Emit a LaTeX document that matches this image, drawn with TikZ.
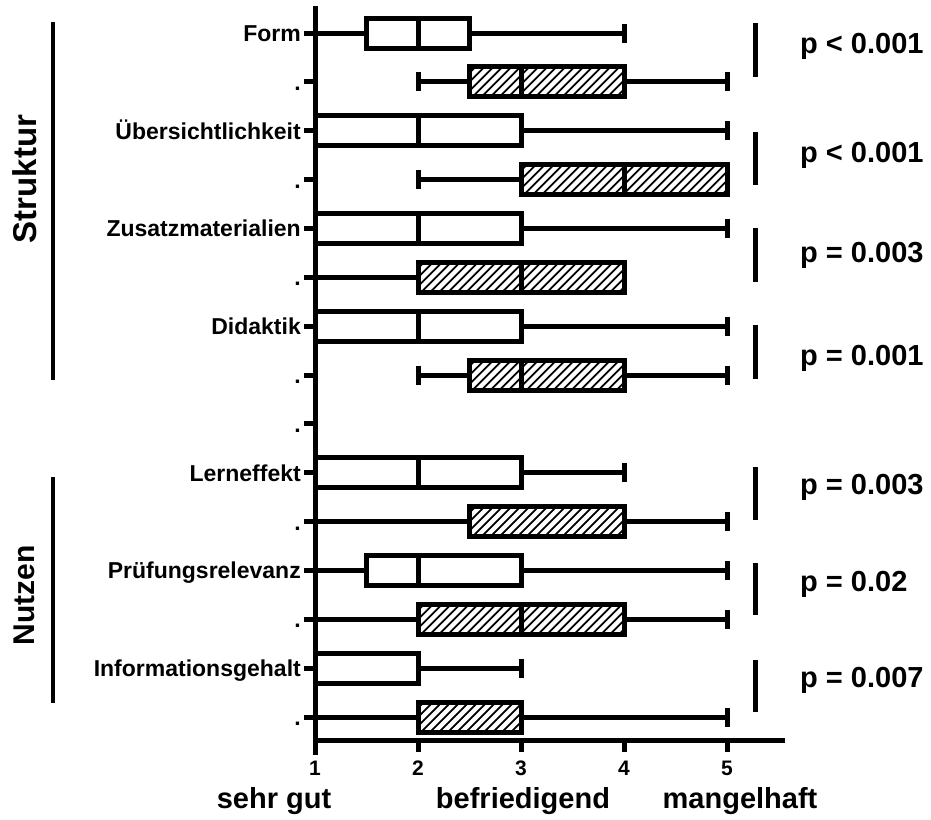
\documentclass[tikz,border=0pt]{standalone}
\usepackage{fontspec}
\setmainfont{Liberation Sans}
\tikzset{
  rowlab/.style={anchor=base east,inner sep=0pt,font=\fontsize{23}{25}\selectfont\bfseries},
  grplab/.style={rotate=90,inner sep=0pt},
  pval/.style={anchor=base west,inner sep=0pt,font=\fontsize{29}{31}\selectfont\bfseries},
  ticklab/.style={inner sep=0pt,font=\fontsize{21}{23}\selectfont\bfseries},
  axlab/.style={anchor=base,inner sep=0pt,font=\fontsize{29}{31}\selectfont\bfseries},
  axisline/.style={line width=5pt,line cap=rect},
  wsk/.style={line width=5pt},
  bx/.style={line width=5pt,line join=miter},
  hatchline/.style={line width=1.8pt},
  grpbar/.style={line width=4.5pt},
  sigbar/.style={line width=5pt}
}
\newcommand\bxrow[7]{%
  \pgfmathsetmacro\xlo{315+103*(#2-1)}%
  \pgfmathsetmacro\xqa{315+103*(#3-1)}%
  \pgfmathsetmacro\xmd{315+103*(#4-1)}%
  \pgfmathsetmacro\xqb{315+103*(#5-1)}%
  \pgfmathsetmacro\xhi{315+103*(#6-1)}%
  \draw[wsk] (\xlo,#1) -- (\xqa,#1) (\xqb,#1) -- (\xhi,#1);
  \draw[wsk] (\xlo,#1-9.5) -- (\xlo,#1+9.5) (\xhi,#1-9.5) -- (\xhi,#1+9.5);
  \fill[white] (\xqa,#1-15) rectangle (\xqb,#1+15);
  \ifnum#7=1
  \begin{scope}
    \clip (\xqa,#1-15) rectangle (\xqb,#1+15);
    \foreach \k in {0,...,27}{
      \draw[hatchline] (\xqa-40+9*\k,#1+22) -- ++(44,-44);
    }
  \end{scope}
  \fi
  \draw[bx] (\xqa,#1-15) rectangle (\xqb,#1+15);
  \draw[bx] (\xmd,#1-15) -- (\xmd,#1+15);
}
\begin{document}
\begin{tikzpicture}[x=1pt,y=-1pt]
\useasboundingbox (0,0) rectangle (931,819);
% group labels and bars
\node[grplab,font=\fontsize{33}{35}\selectfont\bfseries] (struktur) at (25,179) {Struktur};
\node[grplab,font=\fontsize{30}{32}\selectfont\bfseries] (nutzen) at (24,595) {Nutzen};
\coordinate (sA) at (53,22); \coordinate (sB) at (53,380);
\coordinate (nA) at (53,477); \coordinate (nB) at (53,703);
\draw[grpbar] (sA) -- (sB);
\draw[grpbar] (nA) -- (nB);
% row labels and ticks
\foreach \i/\lab in {0/Form,1/.,2/Übersichtlichkeit,3/.,4/Zusatzmaterialien,5/.,6/Didaktik,7/.,8/.,9/Lerneffekt,10/.,11/Prüfungsrelevanz,12/.,13/Informationsgehalt,14/.}{
  \pgfmathsetmacro\yy{33+48.86*\i}
  \node[rowlab] (l\i) at (301,\yy+8.5) {\lab};
  \coordinate (tk\i) at (304,\yy);
  \coordinate (ta\i) at (315,\yy);
  \draw[wsk] (tk\i) -- (ta\i);
}
% boxes
\bxrow{33}{1}{1.5}{2}{2.5}{4}{0}
\bxrow{81.86}{2}{2.5}{3}{4}{5}{1}
\bxrow{130.72}{1}{1}{2}{3}{5}{0}
\bxrow{179.58}{2}{3}{4}{5}{5}{1}
\bxrow{228.44}{1}{1}{2}{3}{5}{0}
\bxrow{277.3}{1}{2}{3}{4}{4}{1}
\bxrow{326.16}{1}{1}{2}{3}{5}{0}
\bxrow{375.02}{2}{2.5}{3}{4}{5}{1}
\bxrow{472.74}{1}{1}{2}{3}{4}{0}
\bxrow{521.6}{1}{2.5}{4}{4}{5}{1}
\bxrow{570.46}{1}{1.5}{2}{3}{5}{0}
\bxrow{619.32}{1}{2}{3}{4}{5}{1}
\bxrow{668.18}{1}{1}{2}{2}{3}{0}
\bxrow{717.04}{1}{2}{3}{3}{5}{1}
% axes
\coordinate (o) at (315,740);
\coordinate (ytop) at (315,8);
\coordinate (ybot) at (315,752);
\coordinate (xend) at (782,740);
\draw[axisline] (ytop) -- (ybot);
\draw[axisline] (o) -- (xend);
\foreach \v in {1,...,5}{
  \pgfmathsetmacro\xx{315+103*(\v-1)}
  \coordinate (xt\v) at (\xx,740);
  \coordinate (xb\v) at (\xx,752);
  \draw[wsk] (xt\v) -- (xb\v);
  \node[ticklab] (tl\v) at (\xx,768) {\v};
}
\node[axlab] (a1) at (274,808) {sehr gut};
\node[axlab] (a2) at (523,808) {befriedigend};
\node[axlab] (a3) at (740,808) {mangelhaft};
% significance
\foreach \k/\ya/\yb/\yc/\txt in {1/23/77/43/{p < 0.001},2/132/185/152/{p < 0.001},3/228/282/252/{p = 0.003},4/325/379/355/{p = 0.001},5/467/520/484/{p = 0.003},6/563/615/581/{p = 0.02},7/660/712/677/{p = 0.007}}{
  \coordinate (sg\k a) at (755,\ya);
  \coordinate (sg\k b) at (755,\yb);
  \draw[sigbar] (sg\k a) -- (sg\k b);
  \node[pval] (pv\k) at (800,\yc+10.5) {\txt};
}
\end{tikzpicture}
\end{document}
